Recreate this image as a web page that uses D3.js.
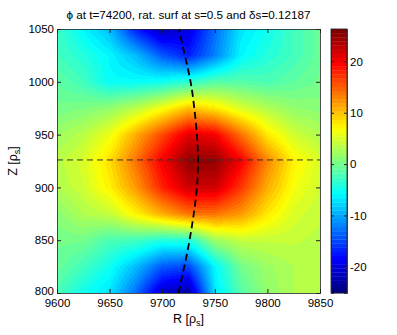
<!DOCTYPE html>
<html>
<head>
<meta charset="utf-8">
<script src="https://cdnjs.cloudflare.com/ajax/libs/d3/7.8.5/d3.min.js"></script>
<style>
body { margin: 0; background: #fff; }
text { font-family: "Liberation Sans", Arial, sans-serif; fill: #000; }
</style>
</head>
<body>
<div id="chart"></div>
<script>
// grid of phi
var r_vals = [9600, 9625, 9650, 9675, 9700, 9725, 9750, 9775, 9800, 9825, 9850];
var z_vals = [800, 825, 850, 875, 900, 925, 950, 975, 1000, 1025, 1050];
// one row per z value, bottom (z=800) first
var phi = [
	[-2,   -5,   -7,  -13, -21, -23, -7,  -1.5, 1.5,  3,    3.5],
	[-0.5, -2.5, -5,  -9,  -14, -15, -6,  0,    2,    3,    3.5],
	[0,    0,    -2,  -2.5,-4,  -4,  2,   4,    4,    4,    3.5],
	[1,    3,    4,   7.5, 11,  14,  14,  12,   8,    5,    4],
	[3,    4.5,  7.5, 12,  18,  22,  22,  17,   11,   6.5,  4.5],
	[3.5,  5,    8.5, 14,  20,  25,  25,  20,   13,   7.5,  5],
	[2,    3.5,  6,   11,  16,  21,  20,  14,   8,    4.5,  3],
	[0,    0.5,  1.5, 3.5, 6.5, 10,  8,   5,    3,    1.5,  1],
	[-1,   -2.5, -5.5,-5.5,-5,  -3.5,-1.5,-1.5, -2,   -1,   0],
	[-2.5, -4,   -6,  -9,  -14, -17, -12, -6,   -4,   -2.5, -0.5],
	[-2.5, -6,   -9,  -17, -22, -20, -13, -7,   -5,   -2.5, -0.5]
];

// rational surface s=0.5
var surf_z = [800, 825, 850, 875, 900, 926, 950, 975, 1000, 1025, 1050];
var surf_r = [9715.5, 9721, 9726, 9730, 9733, 9734, 9733, 9730.5, 9727, 9721.5, 9716];
var mid_z = 926;

var c_min = -25.1, c_max = 26.3;
var x_ticks = [9600, 9650, 9700, 9750, 9800, 9850];
var y_ticks = [800, 850, 900, 950, 1000, 1050];
var c_ticks = [-20, -10, 0, 10, 20];

var chart_width = 397, chart_height = 335;
var p_left = 57, p_right = 320, p_top = 29, p_bottom = 293;
var cb_left = 331, cb_right = 347;

var svg = d3.select('#chart')
		.append('svg')
		.attr('width', chart_width)
		.attr('height', chart_height);

var x_scale = d3.scaleLinear().domain([9600, 9850]).range([p_left, p_right]);
var y_scale = d3.scaleLinear().domain([800, 1050]).range([p_bottom, p_top]);
var c_scale = d3.scaleLinear().domain([c_min, c_max]).range([p_bottom, p_top]);

function plain(d){ return String(d); }

function jet(t){
	var cl = function(v){ return Math.max(0, Math.min(1, v)); };
	return [cl(1.5 - Math.abs(4 * t - 3)), cl(1.5 - Math.abs(4 * t - 2)), cl(1.5 - Math.abs(4 * t - 1))];
}
function level(v){
	var i = Math.floor((v - c_min) / (c_max - c_min) * 64);
	return Math.max(0, Math.min(63, i));
}
function level_color(i){
	var c = jet(i / 63);
	return 'rgb(' + Math.round(c[0] * 255) + ',' + Math.round(c[1] * 255) + ',' + Math.round(c[2] * 255) + ')';
}

// interpolated field (like shading interp), drawn on a canvas
var pw = p_right - p_left, ph = p_bottom - p_top;
var canvas = document.createElement('canvas');
canvas.width = pw;
canvas.height = ph;
var ctx = canvas.getContext('2d');
var img = ctx.createImageData(pw, ph);
var dr = r_vals[1] - r_vals[0], dz = z_vals[1] - z_vals[0];
for (var py = 0; py < ph; py++){
	for (var px = 0; px < pw; px++){
		var r = x_scale.invert(p_left + px + 0.5);
		var z = y_scale.invert(p_top + py + 0.5);
		var fi = Math.max(0, Math.min(r_vals.length - 1.0001, (r - r_vals[0]) / dr));
		var fj = Math.max(0, Math.min(z_vals.length - 1.0001, (z - z_vals[0]) / dz));
		var i = Math.floor(fi), j = Math.floor(fj);
		var a = fi - i, b = fj - j;
		var v = phi[j][i] * (1 - a) * (1 - b) + phi[j][i + 1] * a * (1 - b) +
				phi[j + 1][i] * (1 - a) * b + phi[j + 1][i + 1] * a * b;
		var c = jet(level(v) / 63);
		var k = (py * pw + px) * 4;
		img.data[k] = Math.round(c[0] * 255);
		img.data[k + 1] = Math.round(c[1] * 255);
		img.data[k + 2] = Math.round(c[2] * 255);
		img.data[k + 3] = 255;
	}
}
ctx.putImageData(img, 0, 0);

svg.append('image')
		.attr('x', p_left)
		.attr('y', p_top)
		.attr('width', pw)
		.attr('height', ph)
		.attr('href', canvas.toDataURL());

// dashed lines
svg.append('line')
		.attr('x1', p_left)
		.attr('x2', p_right)
		.attr('y1', y_scale(mid_z))
		.attr('y2', y_scale(mid_z))
		.attr('stroke', '#333')
		.attr('stroke-width', 1)
		.attr('stroke-dasharray', '6,4');

var surf_line = d3.line()
		.x(function(d){ return x_scale(d[0]); })
		.y(function(d){ return y_scale(d[1]); })
		.curve(d3.curveNatural);

svg.append('path')
		.datum(d3.zip(surf_r, surf_z))
		.attr('d', surf_line)
		.attr('fill', 'none')
		.attr('stroke', '#000')
		.attr('stroke-width', 1.8)
		.attr('stroke-dasharray', '7,4');

// axes, ticks pointing in
var font_size = 11.5;
var x_axis = svg.append('g')
		.attr('transform', 'translate(0,' + p_bottom + ')')
		.call(d3.axisBottom(x_scale).tickValues(x_ticks).tickFormat(plain).tickSize(-4).tickPadding(6));
svg.append('g')
		.attr('transform', 'translate(0,' + p_top + ')')
		.call(d3.axisTop(x_scale).tickValues(x_ticks).tickSize(-4).tickFormat(''));
var y_axis = svg.append('g')
		.attr('transform', 'translate(' + p_left + ',0)')
		.call(d3.axisLeft(y_scale).tickValues(y_ticks).tickFormat(plain).tickSize(-4).tickPadding(3));
svg.append('g')
		.attr('transform', 'translate(' + p_right + ',0)')
		.call(d3.axisRight(y_scale).tickValues(y_ticks).tickSize(-4).tickFormat(''));

// keep the corner labels apart
y_axis.selectAll('.tick text')
		.attr('dy', function(d){ return d === 800 ? '0.1em' : '0.32em'; });

// colorbar
var levels = d3.range(64);
svg.selectAll('rect.cb')
		.data(levels)
		.enter()
		.append('rect')
		.attr('class', 'cb')
		.attr('x', cb_left)
		.attr('width', cb_right - cb_left)
		.attr('y', function(d){ return c_scale(c_min + (d + 1) * (c_max - c_min) / 64); })
		.attr('height', (p_bottom - p_top) / 64 + 0.3)
		.attr('fill', function(d){ return level_color(d); });

svg.append('g')
		.attr('transform', 'translate(' + cb_right + ',0)')
		.call(d3.axisRight(c_scale).tickValues(c_ticks).tickFormat(plain).tickSize(-3).tickPadding(3));
svg.append('g')
		.attr('transform', 'translate(' + cb_left + ',0)')
		.call(d3.axisLeft(c_scale).tickValues(c_ticks).tickSize(-3).tickFormat(''));
svg.append('rect')
		.attr('x', cb_left)
		.attr('y', p_top)
		.attr('width', cb_right - cb_left)
		.attr('height', p_bottom - p_top)
		.attr('fill', 'none')
		.attr('stroke', '#222')
		.attr('stroke-width', 0.8);

svg.selectAll('.domain').attr('stroke', '#222').attr('stroke-width', 0.8);
svg.selectAll('.tick line').attr('stroke', '#222');
svg.selectAll('.tick text')
		.style('font-family', '"Liberation Sans", Arial, sans-serif')
		.style('font-size', font_size + 'px')
		.attr('fill', '#000');

// title and labels
svg.append('text')
		.attr('x', (p_left + p_right) / 2)
		.attr('y', 19)
		.attr('text-anchor', 'middle')
		.style('font-size', '11.7px')
		.text('\u03d5 at t=74200, rat. surf at s=0.5 and \u03b4s=0.12187');

var xl = svg.append('text')
		.attr('x', (p_left + p_right) / 2)
		.attr('y', 323)
		.attr('text-anchor', 'middle')
		.style('font-size', '12.5px');
xl.append('tspan').text('R [\u03c1');
xl.append('tspan').attr('dy', 3).style('font-size', '9px').text('s');
xl.append('tspan').attr('dy', -3).text(']');

var yl = svg.append('text')
		.attr('transform', 'translate(17,' + ((p_top + p_bottom) / 2) + ') rotate(-90)')
		.attr('text-anchor', 'middle')
		.style('font-size', '12.5px');
yl.append('tspan').text('Z [\u03c1');
yl.append('tspan').attr('dy', 3).style('font-size', '9px').text('s');
yl.append('tspan').attr('dy', -3).text(']');
</script>
</body>
</html>
